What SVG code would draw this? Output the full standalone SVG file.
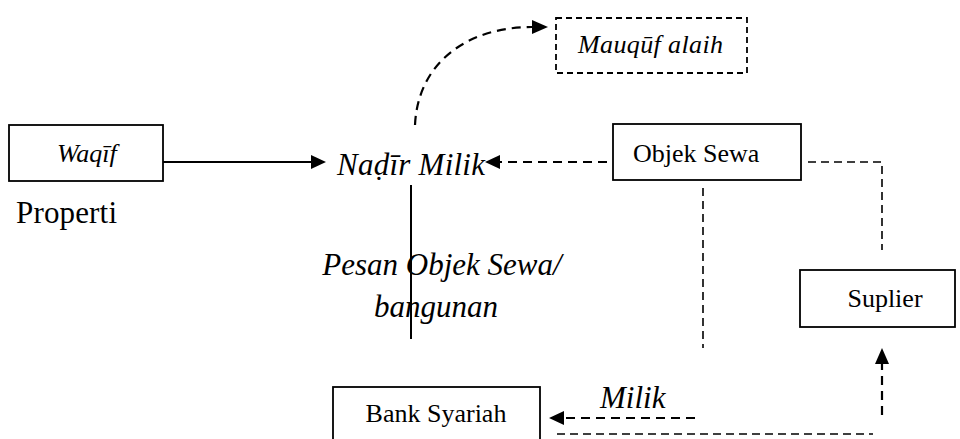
<svg xmlns="http://www.w3.org/2000/svg" width="960" height="439" viewBox="0 0 960 439">
  <style>
    .box { fill: #fff; stroke: #000; stroke-width: 1.8; }
    .dbox { fill: none; stroke: #000; stroke-width: 1.8; stroke-dasharray: 6 4; }
    .lbl { font-family: "Liberation Serif", "Times New Roman", serif; font-size: 26px; fill: #000; }
    .big { font-family: "Liberation Serif", "Times New Roman", serif; font-size: 31px; fill: #000; }
    .it { font-style: italic; }
    .solid { fill: none; stroke: #000; stroke-width: 2; }
    .dash { fill: none; stroke: #000; stroke-width: 2.2; stroke-dasharray: 9 6; }
    .thin { fill: none; stroke: #000; stroke-width: 1.6; stroke-dasharray: 8 5; }
    .head { fill: #000; }
  </style>

  <!-- connectors -->
  <g id="connectors">
    <!-- Waqif -> Nadir -->
    <line class="solid" x1="163" y1="162" x2="312" y2="162"/>
    <path class="head" d="M311,155 L326,162 L311,169 Z"/>
    <!-- Nadir -> Mauquf alaih (curved) -->
    <path class="dash" d="M415,125 C418,62 468,27 532,27"/>
    <path class="head" d="M532,20 L548,27 L532,34 Z"/>
    <!-- Objek Sewa -> Nadir -->
    <line class="dash" x1="607" y1="162" x2="500" y2="162"/>
    <path class="head" d="M500,155 L485,162 L500,169 Z"/>
    <!-- vertical solid line under Nadir -->
    <line class="solid" x1="411" y1="185" x2="411" y2="339"/>
    <!-- Objek Sewa -> Suplier path -->
    <path class="thin" d="M808,162 L882,162 L882,250"/>
    <!-- Objek Sewa vertical down -->
    <line class="thin" x1="703" y1="188" x2="703" y2="348"/>
    <!-- Milik -> Bank Syariah -->
    <line class="dash" x1="695" y1="418" x2="562" y2="418"/>
    <path class="head" d="M564,411 L549,418 L564,425 Z"/>
    <!-- lower dashed line -->
    <line class="thin" x1="557" y1="434" x2="873" y2="434"/>
    <!-- up to Suplier -->
    <line class="dash" x1="882" y1="415" x2="882" y2="364"/>
    <path class="head" d="M875,364 L882,348 L889,364 Z"/>
  </g>

  <g id="waqif">
    <rect class="box" x="9" y="125" width="154" height="56"/>
    <text class="lbl it" x="57" y="162" font-size="30">Waqīf</text>
  </g>

  <g id="properti">
    <text class="big" x="16" y="223" font-size="33" textLength="101">Properti</text>
  </g>

  <g id="nadir">
    <text class="big it" x="337" y="175" textLength="148">Naḍīr Milik</text>
  </g>

  <g id="mauquf">
    <rect class="dbox" x="556" y="18" width="191" height="55"/>
    <text class="lbl it" x="578" y="53" font-size="27" textLength="145">Mauqūf alaih</text>
  </g>

  <g id="objek-sewa">
    <rect class="box" x="613" y="124" width="188" height="56"/>
    <text class="lbl" x="633" y="162">Objek Sewa</text>
  </g>

  <g id="pesan">
    <text class="big it" x="442" y="275" text-anchor="middle">Pesan Objek Sewa/</text>
    <text class="big it" x="436" y="317" text-anchor="middle">bangunan</text>
  </g>

  <g id="suplier">
    <rect class="box" x="800" y="270" width="155" height="57"/>
    <text class="lbl" x="885" y="307" text-anchor="middle">Suplier</text>
  </g>

  <g id="milik">
    <text class="big it" x="600" y="408">Milik</text>
  </g>

  <g id="bank-syariah">
    <rect class="box" x="333" y="387" width="207" height="60"/>
    <text class="lbl" x="436" y="422" text-anchor="middle">Bank Syariah</text>
  </g>
</svg>
